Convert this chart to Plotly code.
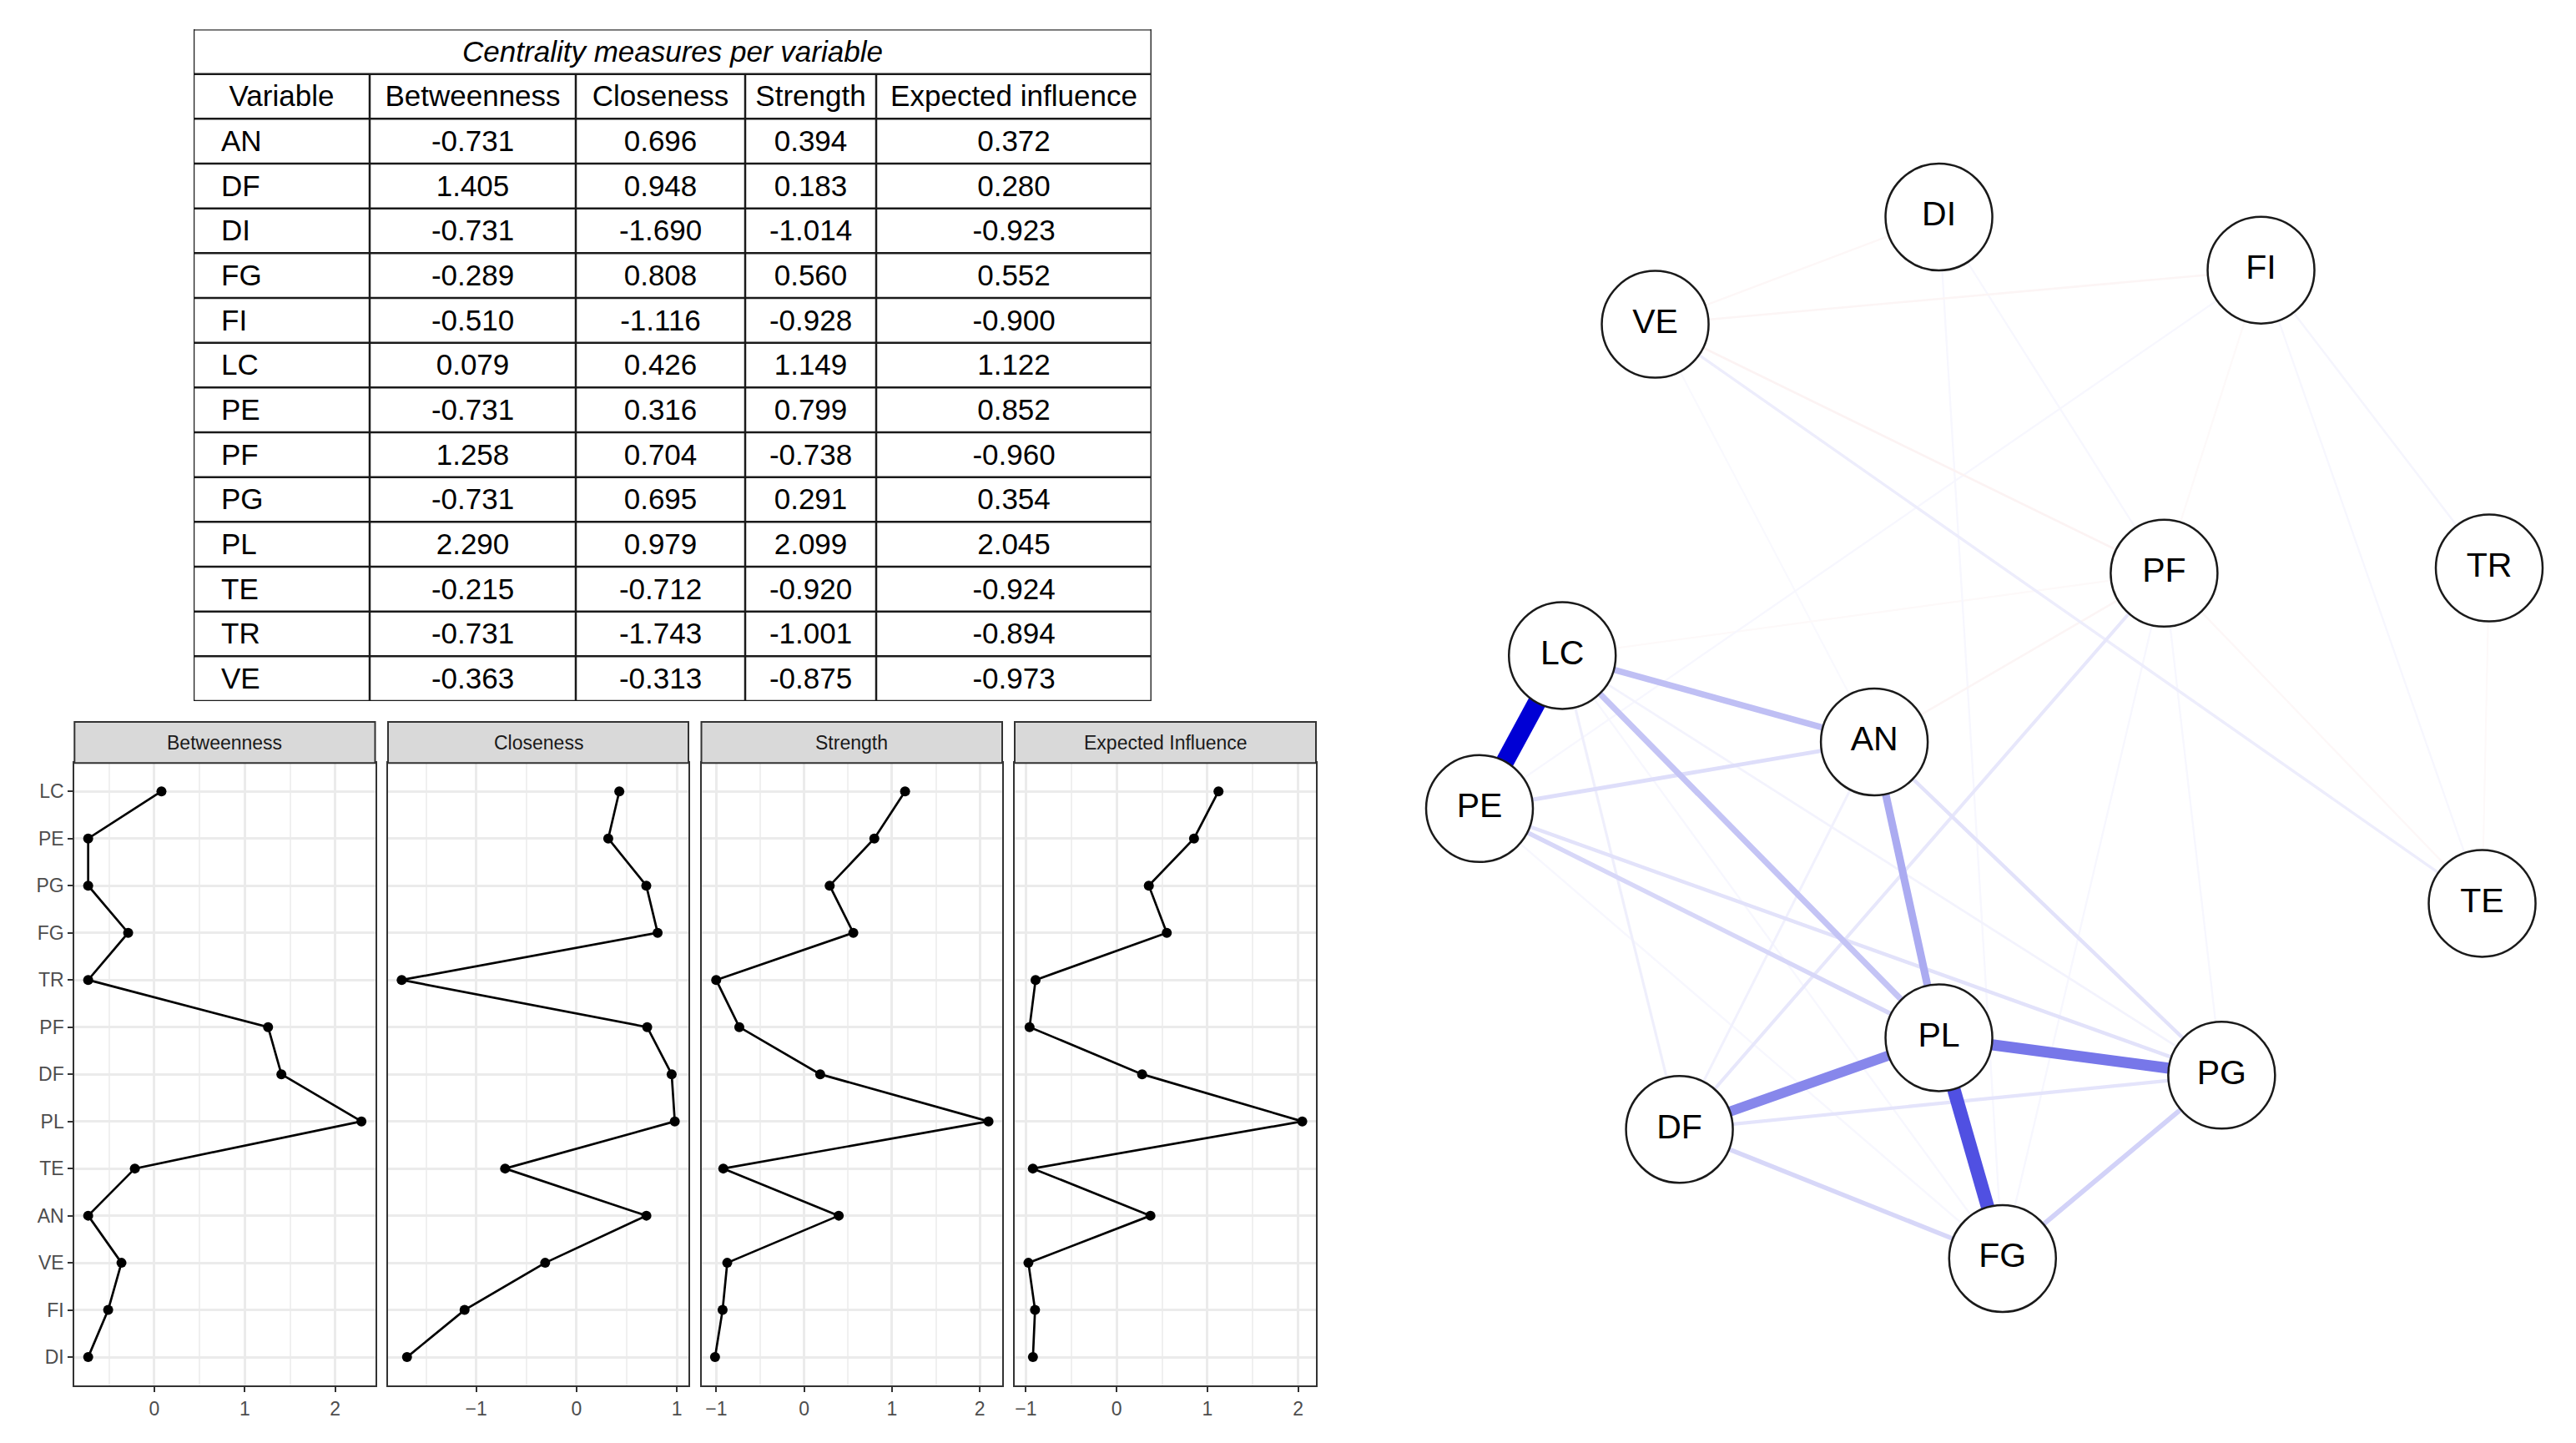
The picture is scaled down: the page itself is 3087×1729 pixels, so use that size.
import plotly.graph_objects as go

W, H = 3087, 1729
FONT = "Liberation Sans, Arial, Helvetica, sans-serif"

# ------------------------------------------------------------------ data
variables = ["AN", "DF", "DI", "FG", "FI", "LC", "PE", "PF", "PG", "PL", "TE", "TR", "VE"]
betweenness = [-0.731, 1.405, -0.731, -0.289, -0.510, 0.079, -0.731, 1.258, -0.731, 2.290, -0.215, -0.731, -0.363]
closeness = [0.696, 0.948, -1.690, 0.808, -1.116, 0.426, 0.316, 0.704, 0.695, 0.979, -0.712, -1.743, -0.313]
strength = [0.394, 0.183, -1.014, 0.560, -0.928, 1.149, 0.799, -0.738, 0.291, 2.099, -0.920, -1.001, -0.875]
expected_influence = [0.372, 0.280, -0.923, 0.552, -0.900, 1.122, 0.852, -0.960, 0.354, 2.045, -0.924, -0.894, -0.973]

table_title = "Centrality measures per variable"
table_headers = ["Variable", "Betweenness", "Closeness", "Strength", "Expected influence"]

plot_order = ["LC", "PE", "PG", "FG", "TR", "PF", "DF", "PL", "TE", "AN", "VE", "FI", "DI"]
facet_titles = ["Betweenness", "Closeness", "Strength", "Expected Influence"]

# network layout (normalised layout coordinates) and edge weights
node_names = ["LC", "PE", "AN", "PL", "DF", "FG", "DI", "FI", "VE", "PF", "TR", "TE", "PG"]
node_x = [0.082, 0.000, 0.391, 0.455, 0.198, 0.518, 0.455, 0.774, 0.174, 0.678, 1.000, 0.993, 0.735]
node_y = [0.579, 0.432, 0.496, 0.212, 0.124, 0.000, 1.000, 0.949, 0.897, 0.658, 0.663, 0.341, 0.176]

edge_from = ["LC", "PL", "PL", "PL", "AN", "LC", "LC", "PG", "DF", "PE", "PE", "PE", "DF", "AN",
             "PF", "VE", "LC", "AN", "LC", "FI", "PE", "LC", "DI", "DI", "PF", "PF", "FI", "FI",
             "VE", "VE", "VE", "VE", "AN", "PF", "TR", "FI", "LC"]
edge_to = ["PE", "FG", "PG", "DF", "PL", "AN", "PL", "FG", "FG", "PL", "AN", "PG", "PG", "PG",
           "DF", "TE", "DF", "DF", "PG", "TR", "FG", "FG", "FG", "PF", "FG", "PG", "TE", "PE",
           "AN", "PF", "FI", "DI", "PF", "TE", "TE", "PF", "PF"]
edge_weight = [1.00, 0.72, 0.58, 0.52, 0.38, 0.30, 0.28, 0.22, 0.20, 0.20, 0.17, 0.15, 0.14, 0.15,
               0.13, 0.10, 0.09, 0.08, 0.07, 0.06, 0.05, 0.05, 0.05, 0.05, 0.05, 0.05, 0.05, 0.05,
               0.04, -0.07, -0.06, -0.05, -0.06, -0.05, -0.04, -0.04, -0.04]

# ------------------------------------------------------------------ helpers
def px_x(p):
    return p / W


def px_y(p):
    return 1 - p / H


fig = go.Figure()
layout = dict(
    width=W, height=H, margin=dict(l=0, r=0, t=0, b=0),
    paper_bgcolor="white", plot_bgcolor="white", showlegend=False,
    font=dict(family=FONT, color="black"),
)
shapes = []
annotations = []

# ------------------------------------------------------------------ table
col_edges = [0, 211, 458, 661, 818, 1148]
n_rows = 2 + len(variables)
layout["xaxis5"] = dict(domain=[px_x(232), px_x(1380)], range=[0, col_edges[-1]],
                        visible=False, anchor="y5", fixedrange=True)
layout["yaxis5"] = dict(domain=[px_y(840), px_y(35)], range=[n_rows, 0],
                        visible=False, anchor="x5", fixedrange=True)
TFS = 35
TOFF = 0.56  # vertical text position within a row
centers = [(col_edges[i] + col_edges[i + 1]) / 2 for i in range(5)]
fig.add_trace(go.Scatter(x=[col_edges[-1] / 2], y=[TOFF], mode="text",
                         text=["<i>" + table_title + "</i>"], textposition="middle center",
                         textfont=dict(size=TFS, color="black", family=FONT),
                         xaxis="x5", yaxis="y5", hoverinfo="skip", cliponaxis=False))
fig.add_trace(go.Scatter(x=centers, y=[1 + TOFF] * 5, mode="text", text=table_headers,
                         textposition="middle center",
                         textfont=dict(size=TFS, color="black", family=FONT),
                         xaxis="x5", yaxis="y5", hoverinfo="skip", cliponaxis=False))
rows_y = [2 + TOFF + i for i in range(len(variables))]
fig.add_trace(go.Scatter(x=[33] * len(variables), y=rows_y, mode="text", text=variables,
                         textposition="middle right",
                         textfont=dict(size=TFS, color="black", family=FONT),
                         xaxis="x5", yaxis="y5", hoverinfo="skip", cliponaxis=False))
for ci, col in enumerate([betweenness, closeness, strength, expected_influence]):
    fig.add_trace(go.Scatter(x=[centers[ci + 1]] * len(col), y=rows_y, mode="text",
                             text=[f"{v:.3f}" for v in col], textposition="middle center",
                             textfont=dict(size=TFS, color="black", family=FONT),
                             xaxis="x5", yaxis="y5", hoverinfo="skip", cliponaxis=False))
# table grid
shapes.append(dict(type="line", xref="x5", yref="y5", x0=0, x1=col_edges[-1], y0=0, y1=0,
                   line=dict(color="#6a6a6a", width=3.5)))
for r in range(1, n_rows + 1):
    shapes.append(dict(type="line", xref="x5", yref="y5", x0=0, x1=col_edges[-1], y0=r, y1=r,
                       line=dict(color="#1a1a1a", width=2.5)))
shapes.append(dict(type="line", xref="x5", yref="y5", x0=0, x1=0, y0=0, y1=n_rows,
                   line=dict(color="#1a1a1a", width=2.5)))
shapes.append(dict(type="line", xref="x5", yref="y5", x0=col_edges[-1], x1=col_edges[-1], y0=0, y1=n_rows,
                   line=dict(color="#333333", width=3)))
for ce in col_edges[1:-1]:
    shapes.append(dict(type="line", xref="x5", yref="y5", x0=ce, x1=ce, y0=1, y1=n_rows,
                       line=dict(color="#1a1a1a", width=2.5)))

# ------------------------------------------------------------------ facet panels
panel_px = [(89.3, 449.5), (465, 825), (840.5, 1201), (1216, 1577)]
panel_top, panel_bot, strip_top = 914.3, 1660, 865
series = [betweenness, closeness, strength, expected_influence]
idx = {v: i for i, v in enumerate(variables)}
ncat = len(plot_order)
for k, (vals, title) in enumerate(zip(series, facet_titles)):
    n = k + 1
    xa = "xaxis" if n == 1 else f"xaxis{n}"
    ya = "yaxis" if n == 1 else f"yaxis{n}"
    xs = "x" if n == 1 else f"x{n}"
    ys = "y" if n == 1 else f"y{n}"
    lo, hi = min(vals), max(vals)
    pad = 0.05 * (hi - lo)
    layout[xa] = dict(
        domain=[px_x(panel_px[k][0]), px_x(panel_px[k][1])], range=[lo - pad, hi + pad],
        anchor=ys, tick0=0, dtick=1, showgrid=True, gridcolor="#EBEBEB", gridwidth=2.5,
        zeroline=False, showline=True, mirror=True, linecolor="#333333", linewidth=2,
        ticks="outside", ticklen=6, tickwidth=1.5, tickcolor="#333333",
        tickfont=dict(size=23, color="#4D4D4D", family=FONT),
        minor=dict(dtick=0.5, tick0=0, showgrid=True, gridcolor="#F0F0F0", gridwidth=1.5, ticks=""),
        fixedrange=True,
    )
    layout[ya] = dict(
        domain=[px_y(panel_bot), px_y(panel_top)], type="category",
        categoryorder="array", categoryarray=plot_order, range=[ncat - 1 + 0.6, -0.6],
        anchor=xs, showgrid=True, gridcolor="#EBEBEB", gridwidth=2.5, zeroline=False,
        showline=True, mirror=True, linecolor="#333333", linewidth=2,
        ticks="outside" if n == 1 else "", ticklen=6, tickwidth=1.5, tickcolor="#333333",
        showticklabels=(n == 1), tickfont=dict(size=23, color="#4D4D4D", family=FONT),
        fixedrange=True,
    )
    fig.add_trace(go.Scatter(
        x=[vals[idx[v]] for v in plot_order], y=plot_order, mode="lines+markers",
        line=dict(color="black", width=2.7), marker=dict(color="black", size=12),
        xaxis=xs, yaxis=ys, hoverinfo="x+y",
    ))
    shapes.append(dict(type="rect", xref="paper", yref="paper",
                       x0=px_x(panel_px[k][0]), x1=px_x(panel_px[k][1]),
                       y0=px_y(panel_top), y1=px_y(strip_top),
                       fillcolor="#D9D9D9", line=dict(color="#333333", width=2)))
    annotations.append(dict(xref="paper", yref="paper",
                            x=px_x((panel_px[k][0] + panel_px[k][1]) / 2),
                            y=px_y((panel_top + strip_top) / 2), text=title, showarrow=False,
                            font=dict(size=23, color="#1A1A1A", family=FONT),
                            xanchor="center", yanchor="middle"))

# ------------------------------------------------------------------ network
X0, XS = 1773, 1210
Y0, YS = 1508, 1248
layout["xaxis6"] = dict(domain=[px_x(1700), px_x(3080)],
                        range=[(1700 - X0) / XS, (3080 - X0) / XS],
                        visible=False, anchor="y6", fixedrange=True)
layout["yaxis6"] = dict(domain=[px_y(1600), px_y(180)],
                        range=[(Y0 - 1600) / YS, (Y0 - 180) / YS],
                        visible=False, anchor="x6", fixedrange=True)

pos = {n: (x, y) for n, x, y in zip(node_names, node_x, node_y)}
wmax = max(abs(w) for w in edge_weight)
POS_COL = (0, 0, 213)
NEG_COL = (191, 0, 0)
order = sorted(range(len(edge_weight)), key=lambda i: abs(edge_weight[i]))
for i in order:
    w = edge_weight[i]
    frac = abs(w) / wmax
    a = frac ** 1.15
    base = POS_COL if w > 0 else NEG_COL
    col = tuple(round(255 * (1 - a) + c * a) for c in base)
    (xa_, ya_), (xb_, yb_) = pos[edge_from[i]], pos[edge_to[i]]
    fig.add_trace(go.Scatter(
        x=[xa_, xb_], y=[ya_, yb_], mode="lines",
        line=dict(color=f"rgb{col}", width=1.3 + 20.7 * frac),
        xaxis="x6", yaxis="y6", hoverinfo="skip",
    ))
fig.add_trace(go.Scatter(
    x=node_x, y=node_y, mode="markers+text", text=node_names, textposition="middle center",
    textfont=dict(size=41, color="black", family=FONT),
    marker=dict(size=128, color="white", line=dict(color="#1A1A1A", width=2.5)),
    xaxis="x6", yaxis="y6", cliponaxis=False, hoverinfo="text",
))

layout["shapes"] = shapes
layout["annotations"] = annotations
fig.update_layout(**layout)

fig.write_html("out.html", include_plotlyjs=True, full_html=True,
               config={"displayModeBar": False},
               post_script="document.body.style.margin='0px';document.body.style.overflow='hidden';")
